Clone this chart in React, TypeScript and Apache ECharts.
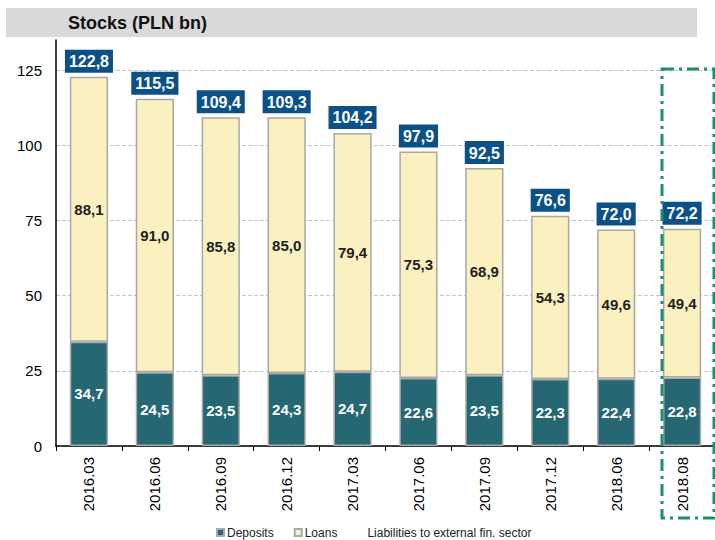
import React, { useEffect, useRef } from "react";
import * as echarts from "echarts";

const categories = ["2016.03", "2016.06", "2016.09", "2016.12", "2017.03", "2017.06", "2017.09", "2017.12", "2018.06", "2018.08"];
const deposits = [34.7, 24.5, 23.5, 24.3, 24.7, 22.6, 23.5, 22.3, 22.4, 22.8];
const loans = [88.1, 91.0, 85.8, 85.0, 79.4, 75.3, 68.9, 54.3, 49.6, 49.4];
const liabilities = [0, 0, 0, 0, 0, 0, 0, 0, 0, 0];
const totals = [122.8, 115.5, 109.4, 109.3, 104.2, 97.9, 92.5, 76.6, 72.0, 72.2];

const fmt = (v: number) => v.toFixed(1).replace(".", ",");
const FONT = "Arial, 'Liberation Sans', sans-serif";

export default function App() {
  const ref = useRef<HTMLDivElement>(null);
  useEffect(() => {
    document.body.style.margin = "0";
    const chart = echarts.init(ref.current!, null, { renderer: "svg" });
    chart.setOption({
      animation: false,
      backgroundColor: "#fff",
      textStyle: { fontFamily: FONT },
      graphic: [
        { type: "rect", shape: { x: 6, y: 8, width: 691, height: 29 }, style: { fill: "#d9d9d9" }, z: 0 },
        { type: "text", x: 68, y: 23, style: { text: "Stocks (PLN bn)", fontFamily: FONT, fontSize: 18, fontWeight: "bold", fill: "#111", verticalAlign: "middle" }, z: 1 },
        { type: "rect", shape: { x: 662, y: 69, width: 52, height: 449 }, style: { fill: "none", stroke: "#1c8f6e", lineWidth: 3, lineDash: [12, 5, 3, 5] }, z: 10 },
      ],
      legend: {
        left: 216,
        top: 526,
        padding: 0,
        itemWidth: 7,
        itemHeight: 7,
        itemGap: 20,
        icon: "rect",
        textStyle: { fontSize: 12, lineHeight: 13, color: "#222", fontFamily: FONT, padding: [0, 0, 0, -2] },
        data: [
          { name: "Deposits" },
          { name: "Loans" },
          { name: "Liabilities to external fin. sector", itemStyle: { color: "transparent", borderWidth: 0 } },
        ],
      },
      grid: { left: 56, top: 40, width: 666, height: 406, containLabel: false },
      xAxis: {
        type: "category",
        data: categories,
        axisLine: { lineStyle: { color: "#000", width: 1.5 } },
        axisTick: { show: true, length: 5, lineStyle: { color: "#000" } },
        axisLabel: { rotate: 90, fontSize: 15, color: "#000", margin: 11, fontFamily: FONT },
      },
      yAxis: {
        type: "value",
        min: 0,
        max: 135,
        interval: 25,
        axisLine: { show: true, lineStyle: { color: "#000", width: 1.5 } },
        axisTick: { show: false },
        axisLabel: { fontSize: 15, color: "#000", margin: 14, showMaxLabel: false, fontFamily: FONT },
        splitLine: { show: true, showMaxLine: false, lineStyle: { color: "#c4c4c4", type: "dashed", width: 1 } },
      },
      series: [
        {
          name: "Deposits",
          type: "bar",
          stack: "s",
          barWidth: "58%",
          data: deposits,
          itemStyle: { color: "#266774", borderColor: "#a8a8a8", borderWidth: 1.5 },
          label: { show: true, position: "inside", formatter: (p: any) => fmt(p.value), color: "#fff", fontSize: 15, fontWeight: "bold", fontFamily: FONT },
        },
        {
          name: "Loans",
          type: "bar",
          stack: "s",
          data: loans,
          itemStyle: { color: "#faf0c0", borderColor: "#a8a8a8", borderWidth: 1.5 },
          label: { show: true, position: "inside", formatter: (p: any) => fmt(p.value), color: "#222", fontSize: 15, fontWeight: "bold", fontFamily: FONT },
        },
        {
          name: "Liabilities to external fin. sector",
          type: "bar",
          stack: "s",
          data: liabilities,
          itemStyle: { color: "transparent", borderWidth: 0 },
          label: {
            show: true,
            position: "top",
            distance: 4,
            formatter: (p: any) => fmt(totals[p.dataIndex]),
            color: "#fff",
            fontSize: 16,
            fontWeight: "bold",
            fontFamily: FONT,
            backgroundColor: "#0b5188",
            padding: [3, 4, 2, 4],
            lineHeight: 18,
          },
        },
      ],
    });
    return () => chart.dispose();
  }, []);
  return <div ref={ref} style={{ width: 715, height: 540 }} />;
}
